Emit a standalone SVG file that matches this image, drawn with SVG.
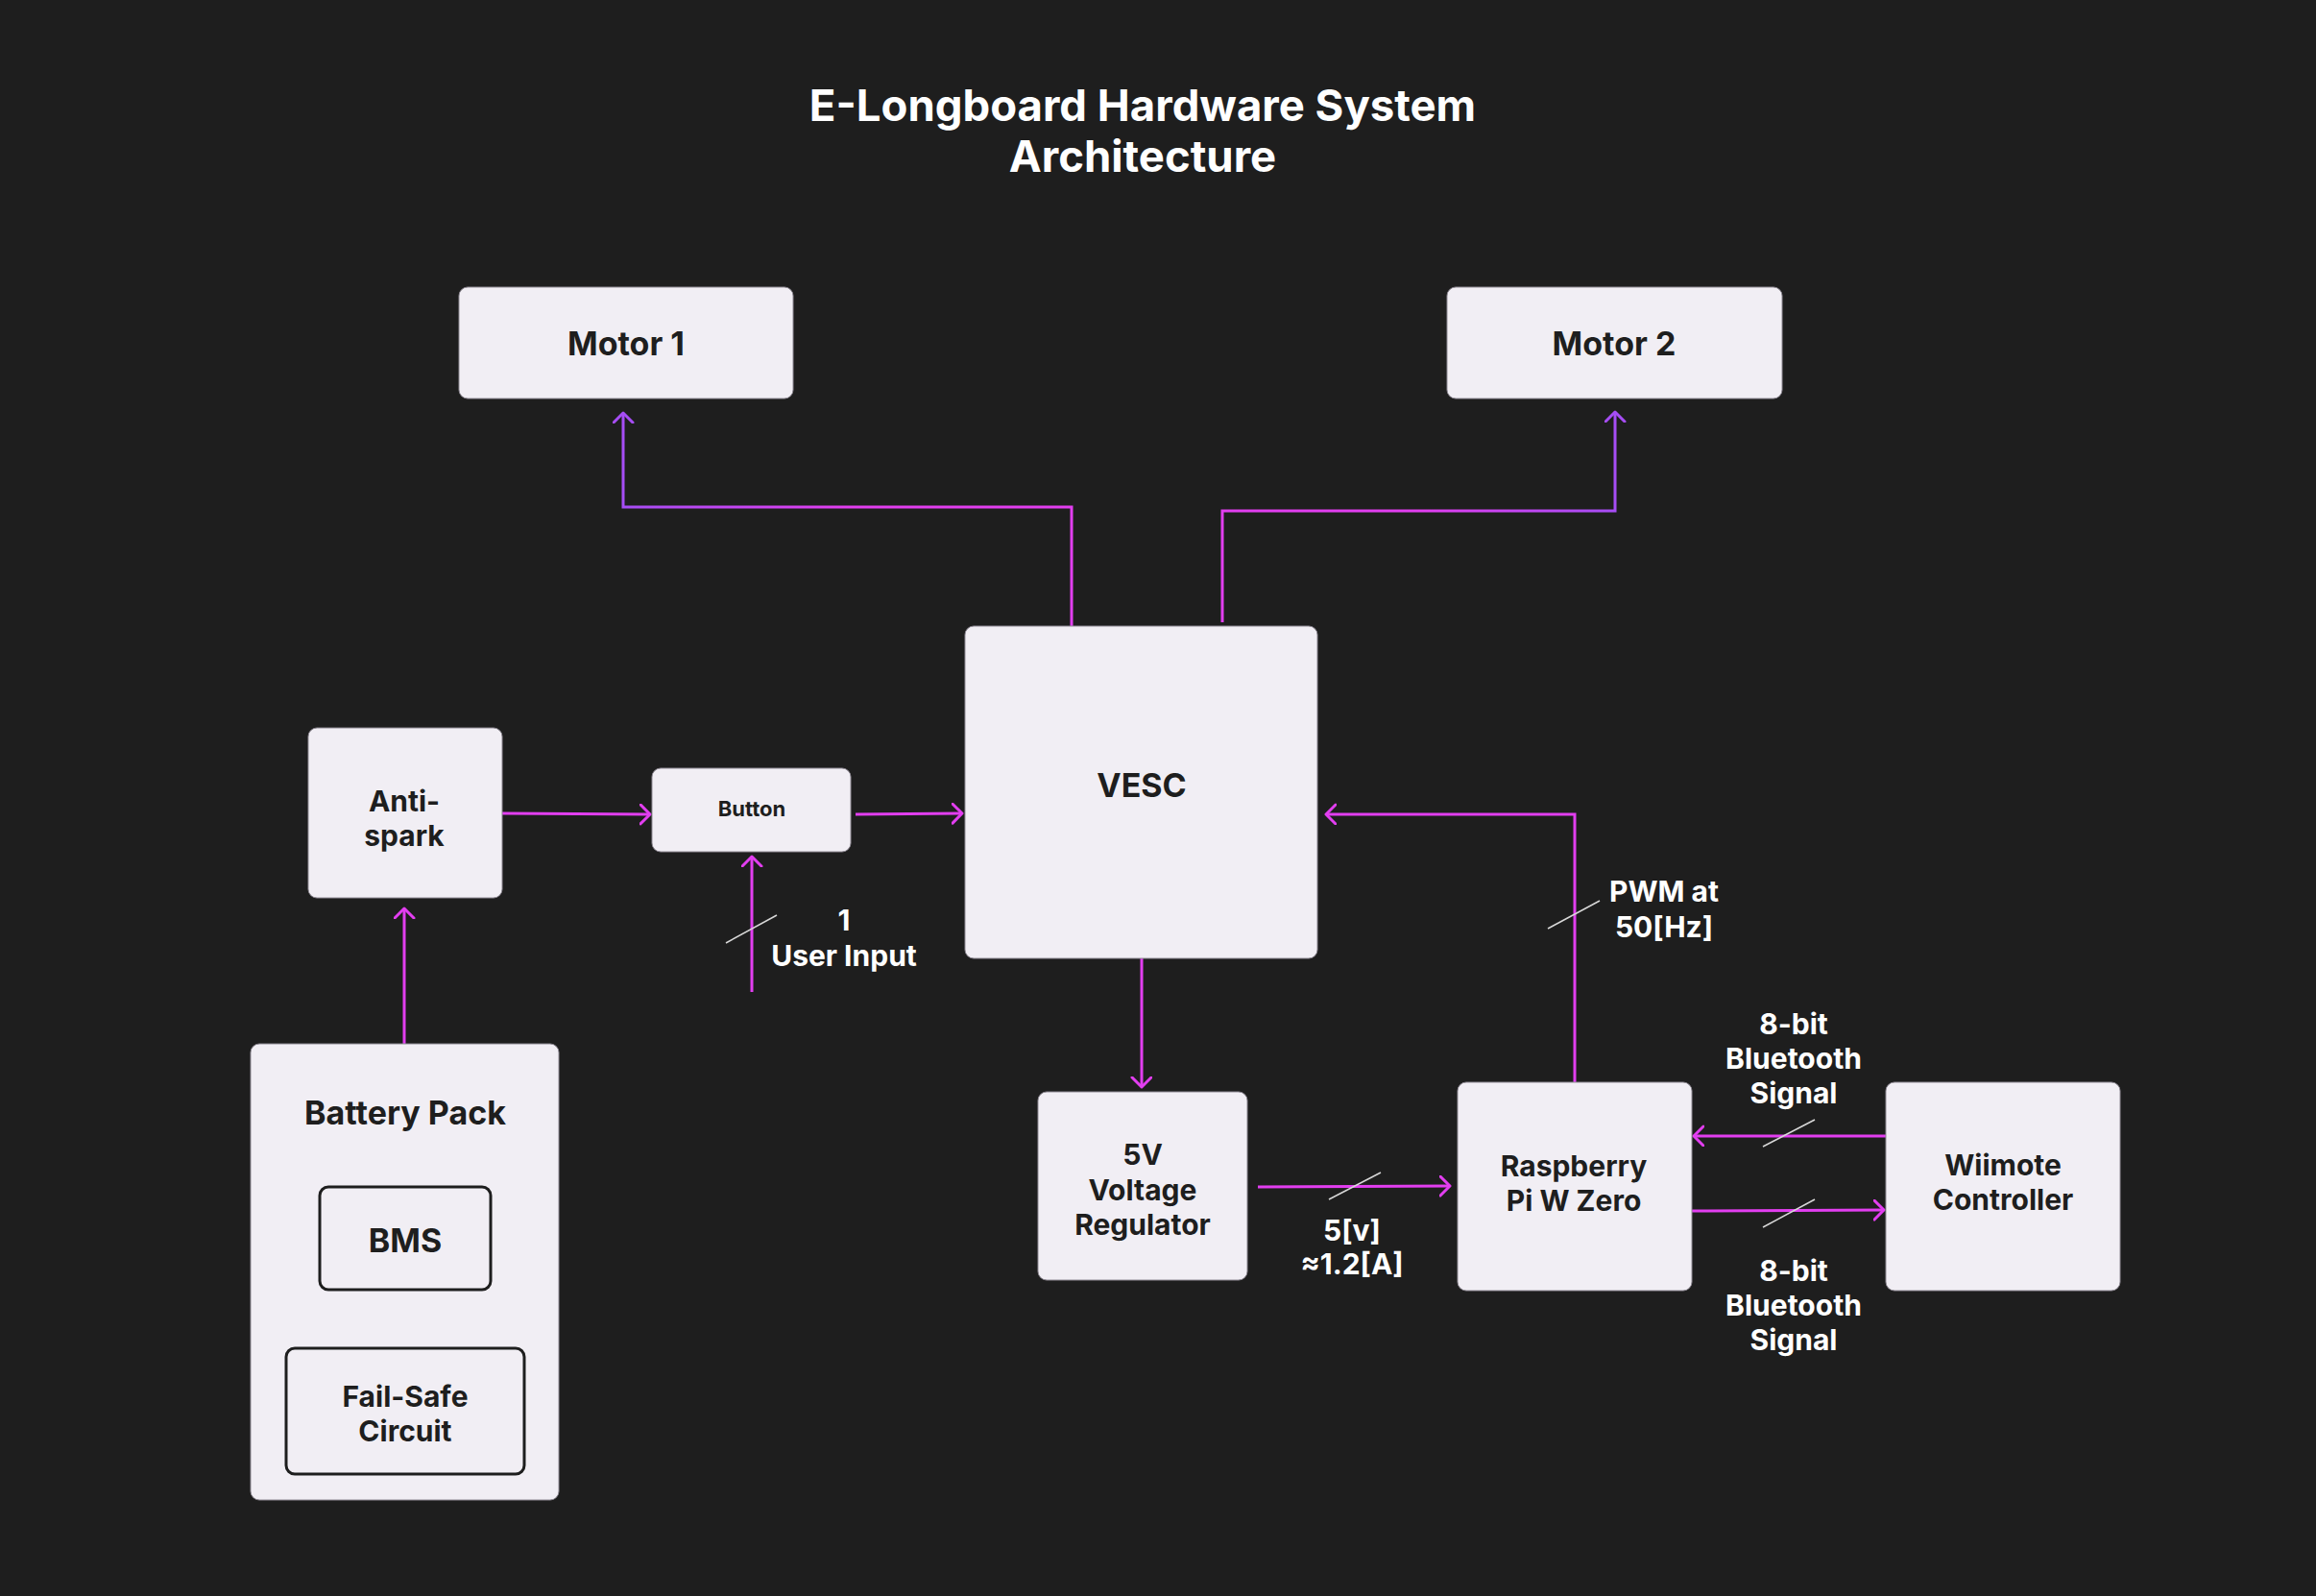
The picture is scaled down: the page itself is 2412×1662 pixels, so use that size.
<svg xmlns="http://www.w3.org/2000/svg" width="2412" height="1662" viewBox="0 0 2412 1662">
<defs>
<style>
.bg{fill:#1e1e1e}
.node{fill:#f1eef4;stroke:#8f8a94;stroke-width:1}
.inner{fill:#f1eef4;stroke:#1e1e1e;stroke-width:3}
.lbl{font-family:Inter,"Liberation Sans",sans-serif;font-weight:700;font-size:34px;fill:#1e1e1e;text-anchor:middle;dominant-baseline:central}
.ml{font-size:30px}
.small{font-size:22px}
.title{font-family:Inter,"Liberation Sans",sans-serif;font-weight:700;font-size:45.5px;fill:#ffffff;text-anchor:middle;dominant-baseline:central}
.elbl{font-family:Inter,"Liberation Sans",sans-serif;font-weight:700;font-size:30px;fill:#ffffff;text-anchor:middle;dominant-baseline:central}
.wire{fill:none;stroke:#e23ef0;stroke-width:3;marker-end:url(#ah)}
.slash{stroke:#d8d8d8;stroke-width:1.5}
</style>
<marker id="ah" markerUnits="userSpaceOnUse" markerWidth="16" markerHeight="24" refX="11" refY="11" orient="auto" viewBox="0 0 16 24">
<path d="M1,1 L11,11 L1,21" fill="none" stroke="#e23ef0" stroke-width="3" stroke-linecap="round" stroke-linejoin="round"/>
</marker>
<marker id="ahp" markerUnits="userSpaceOnUse" markerWidth="16" markerHeight="24" refX="11" refY="11" orient="auto" viewBox="0 0 16 24">
<path d="M1,1 L11,11 L1,21" fill="none" stroke="#a64df5" stroke-width="3" stroke-linecap="round" stroke-linejoin="round"/>
</marker>
<linearGradient id="g1" gradientUnits="userSpaceOnUse" x1="1116" y1="0" x2="649" y2="0">
<stop offset="0" stop-color="#e23ef0"/><stop offset="0.5" stop-color="#e23ef0"/><stop offset="1" stop-color="#a64df5"/>
</linearGradient>
<linearGradient id="g2" gradientUnits="userSpaceOnUse" x1="1273" y1="0" x2="1682" y2="0">
<stop offset="0" stop-color="#e23ef0"/><stop offset="0.5" stop-color="#e23ef0"/><stop offset="1" stop-color="#a64df5"/>
</linearGradient>
</defs>
<rect class="bg" x="0" y="0" width="2412" height="1662"/>
<g id="title">
<text class="title" x="1190" y="109">E-Longboard Hardware System</text>
<text class="title" x="1190" y="162">Architecture</text>
</g>
<g id="connectors">
<path d="M1116,652 V528 H649 V430" fill="none" stroke="url(#g1)" stroke-width="3" marker-end="url(#ahp)"/>
<path d="M1273,648 V532 H1682 V429" fill="none" stroke="url(#g2)" stroke-width="3" marker-end="url(#ahp)"/>
<path class="wire" d="M421,1088 V946"/>
<path class="wire" d="M523,847 L677,848"/>
<path class="wire" d="M891,848 L1002,847"/>
<path class="wire" d="M783,1033 V892"/>
<path class="wire" d="M1189,998 V1132"/>
<path class="wire" d="M1310,1236 L1510,1235"/>
<path class="wire" d="M1640,1127 V848 H1381"/>
<path class="wire" d="M1964,1183 H1764"/>
<path class="wire" d="M1762,1261 L1962,1260"/>
<line class="slash" x1="756" y1="982" x2="809" y2="953"/>
<line class="slash" x1="1612" y1="967" x2="1666" y2="938"/>
<line class="slash" x1="1384" y1="1249" x2="1438" y2="1221"/>
<line class="slash" x1="1836" y1="1194" x2="1890" y2="1166"/>
<line class="slash" x1="1836" y1="1278" x2="1890" y2="1249"/>
<text class="elbl" x="879" y="958">1</text>
<text class="elbl" x="879" y="995">User Input</text>
<text class="elbl" x="1733" y="928">PWM at</text>
<text class="elbl" x="1733" y="965">50[Hz]</text>
<text class="elbl" x="1408" y="1281">5[v]</text>
<text class="elbl" x="1408" y="1316">≈1.2[A]</text>
<text class="elbl" x="1868" y="1066">8-bit</text>
<text class="elbl" x="1868" y="1102">Bluetooth</text>
<text class="elbl" x="1868" y="1138">Signal</text>
<text class="elbl" x="1868" y="1323">8-bit</text>
<text class="elbl" x="1868" y="1359">Bluetooth</text>
<text class="elbl" x="1868" y="1395">Signal</text>
</g>
<g id="motor1">
<rect class="node" x="478" y="299" width="348" height="116" rx="9"/>
<text class="lbl" x="652" y="357">Motor 1</text>
</g>
<g id="motor2">
<rect class="node" x="1507" y="299" width="349" height="116" rx="9"/>
<text class="lbl" x="1681" y="357">Motor 2</text>
</g>
<g id="vesc">
<rect class="node" x="1005" y="652" width="367" height="346" rx="9"/>
<text class="lbl" x="1189" y="817">VESC</text>
</g>
<g id="antispark">
<rect class="node" x="321" y="758" width="202" height="177" rx="9"/>
<text class="lbl ml" x="421" y="834">Anti-</text>
<text class="lbl ml" x="421" y="870">spark</text>
</g>
<g id="button">
<rect class="node" x="679" y="800" width="207" height="87" rx="9"/>
<text class="lbl small" x="783" y="842">Button</text>
</g>
<g id="battery">
<rect class="node" x="261" y="1087" width="321" height="475" rx="9"/>
<text class="lbl" x="422" y="1158">Battery Pack</text>
<g id="bms">
<rect class="inner" x="333" y="1236" width="178" height="107" rx="9"/>
<text class="lbl" x="422" y="1291">BMS</text>
</g>
<g id="failsafe">
<rect class="inner" x="298" y="1404" width="248" height="131" rx="9"/>
<text class="lbl ml" x="422" y="1454">Fail-Safe</text>
<text class="lbl ml" x="422" y="1490">Circuit</text>
</g>
</g>
<g id="regulator">
<rect class="node" x="1081" y="1137" width="218" height="196" rx="9"/>
<text class="lbl ml" x="1190" y="1202">5V</text>
<text class="lbl ml" x="1190" y="1239">Voltage</text>
<text class="lbl ml" x="1190" y="1275">Regulator</text>
</g>
<g id="rpi">
<rect class="node" x="1518" y="1127" width="244" height="217" rx="9"/>
<text class="lbl ml" x="1639" y="1214">Raspberry</text>
<text class="lbl ml" x="1639" y="1250">Pi W Zero</text>
</g>
<g id="wiimote">
<rect class="node" x="1964" y="1127" width="244" height="217" rx="9"/>
<text class="lbl ml" x="2086" y="1213">Wiimote</text>
<text class="lbl ml" x="2086" y="1249">Controller</text>
</g>
</svg>
